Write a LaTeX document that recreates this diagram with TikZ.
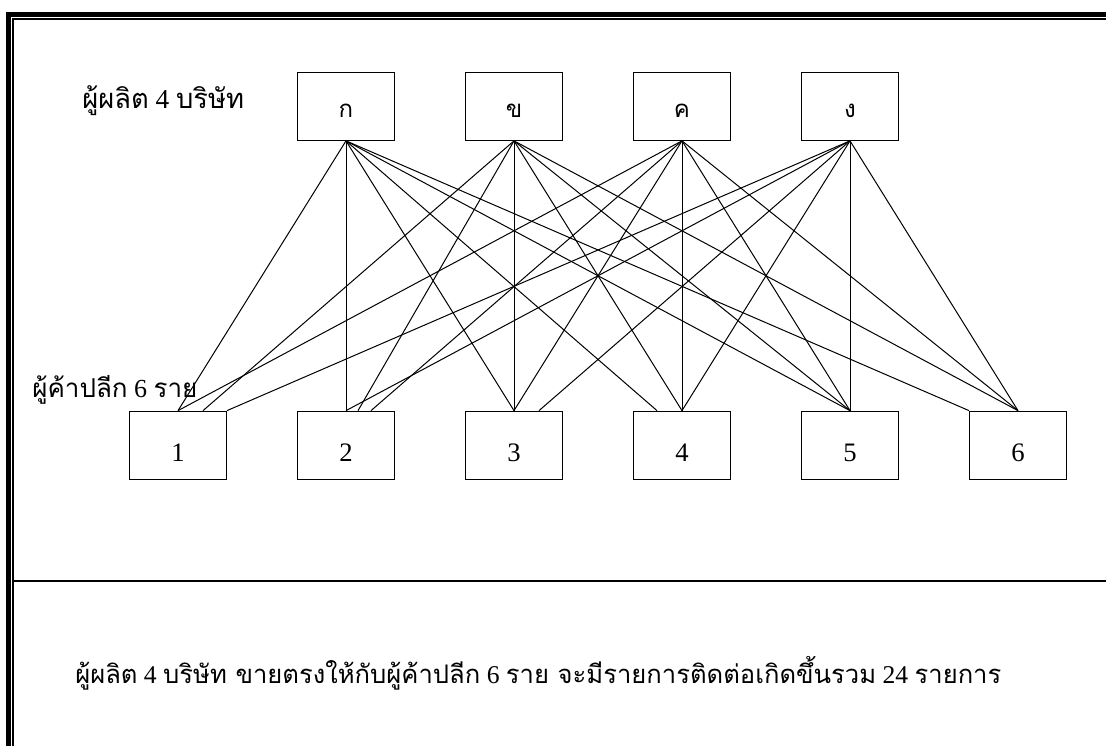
\documentclass[tikz,border=0pt]{standalone}
\usepackage{fontspec}
\setmainfont{Liberation Serif}
\newfontfamily\thai[Script=Thai]{Loma}
\usetikzlibrary{calc}
\tikzset{
  boxnode/.style={draw, line width=1pt, minimum width=72.45pt, minimum height=51pt, inner sep=0pt},
  topbox/.style={boxnode, font=\thai\fontsize{18}{20}\selectfont, text height=16.5pt, text depth=0pt},
  botbox/.style={boxnode, font=\fontsize{20}{24}\selectfont, text height=24.6pt, text depth=0pt},
  link/.style={line width=0.75pt},
  caption/.style={anchor=base west, inner sep=0pt, font=\fontsize{19.5}{22}\selectfont}
}
\begin{document}
\begin{tikzpicture}[x=0.75pt,y=-0.75pt]
\useasboundingbox (0,0) rectangle (1106,746);
% frame
\draw[line width=3.75pt, line join=miter] (8.5,746) -- (8.5,14.5) -- (1106,14.5);
\draw[line width=0.8pt] (13,746) -- (13,19) -- (1106,19);
\draw[line width=1.5pt] (13,580.7) -- (1106,580.7);
% producers
\node[topbox] (ta) at (346,106.2) {ก};
\node[topbox] (tb) at (514,106.2) {ข};
\node[topbox] (tc) at (682,106.2) {ค};
\node[topbox] (td) at (850,106.2) {ง};
% retailers
\node[botbox] (b1) at (178,445.3) {1};
\node[botbox] (b2) at (346,445.3) {2};
\node[botbox] (b3) at (514,445.3) {3};
\node[botbox] (b4) at (682,445.3) {4};
\node[botbox] (b5) at (850,445.3) {5};
\node[botbox] (b6) at (1018,445.3) {6};
% labels
\node[caption, font=\fontsize{20.5}{22}\selectfont] (lp) at (82,108) {{\thai ผู้ผลิต} 4 {\thai บริษัท}};
\node[caption] (lr) at (32,397) {{\thai ผู้ค้าปลีก} 6 {\thai ราย}};
\node[caption, font=\fontsize{19.2}{22}\selectfont] (lt) at (75,683) {{\thai ผู้ผลิต} 4 {\thai บริษัท ขายตรงให้กับผู้ค้าปลีก} 6 {\thai ราย จะมีรายการติดต่อเกิดขึ้นรวม} 24 {\thai รายการ}};
% links to box 1
\draw[link] (ta.south) -- (b1.north);
\draw[link] (tb.south) -- ($(b1.north)+(25,0)$);
\draw[link] (tc.south) -- (b1.north);
\draw[link] (td.south) -- (b1.north east);
% box 2
\draw[link] (ta.south) -- (b2.north);
\draw[link] (tb.south) -- ($(b2.north)+(12,0)$);
\draw[link] (tc.south) -- ($(b2.north)+(25,0)$);
\draw[link] (td.south) -- (b2.north);
% box 3
\draw[link] (ta.south) -- (b3.north);
\draw[link] (tb.south) -- (b3.north);
\draw[link] (tc.south) -- (b3.north);
\draw[link] (td.south) -- ($(b3.north)+(25,0)$);
% box 4
\draw[link] (ta.south) -- ($(b4.north)+(-25,0)$);
\draw[link] (tb.south) -- (b4.north);
\draw[link] (tc.south) -- (b4.north);
\draw[link] (td.south) -- (b4.north);
% box 5
\draw[link] (ta.south) -- (b5.north);
\draw[link] (tb.south) -- (b5.north);
\draw[link] (tc.south) -- (b5.north);
\draw[link] (td.south) -- (b5.north);
% box 6
\draw[link] (ta.south) -- (b6.north west);
\draw[link] (tb.south) -- (b6.north);
\draw[link] (tc.south) -- (b6.north);
\draw[link] (td.south) -- (b6.north);
\end{tikzpicture}
\end{document}
